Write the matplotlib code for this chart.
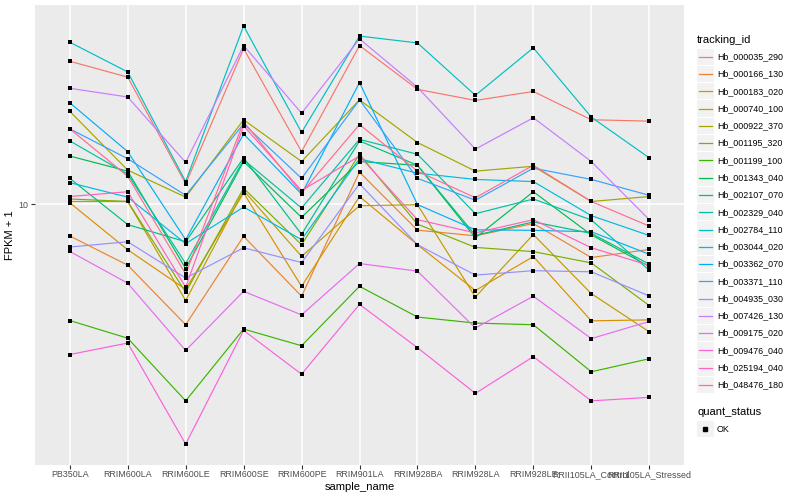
import matplotlib
matplotlib.use("Agg")
import matplotlib.pyplot as plt
from matplotlib.lines import Line2D
from matplotlib.patches import Rectangle
from matplotlib.ticker import NullLocator, NullFormatter
import numpy as np

plt.rcParams['font.family'] = ['Liberation Sans', 'DejaVu Sans']

# samples on the x axis
samples = ['PB350LA', 'RRIM600LA', 'RRIM600LE', 'RRIM600SE', 'RRIM600PE',
           'RRIM901LA', 'RRIM928BA', 'RRIM928LA', 'RRIM928LE',
           'RRII105LA_Control', 'RRII105LA_Stressed']

# FPKM + 1 for each gene, one value per sample
hb_000035_290 = [30.2, 26.7, 11.7, 33.3, 15.0, 34.1, 24.3, 22.3, 23.9, 19.2, 19.0]
hb_000166_130 = [7.81, 6.23, 3.93, 7.79, 4.90, 12.8, 8.17, 7.82, 8.60, 6.61, 7.04]
hb_000183_020 = [10.1, 7.02, 5.17, 10.9, 5.29, 10.6, 7.30, 5.12, 6.66, 4.05, 4.08]
hb_000740_100 = [10.2, 10.2, 4.74, 11.1, 6.67, 9.87, 9.95, 4.87, 7.90, 5.00, 3.72]
hb_000922_370 = [20.5, 13.0, 10.55, 19.2, 13.9, 22.4, 16.1, 12.9, 13.4, 10.2, 10.6]
hb_001195_320 = [10.4, 10.2, 5.05, 11.3, 7.30, 14.7, 8.56, 7.15, 6.92, 6.34, 4.56]
hb_001199_100 = [4.06, 3.54, 2.18, 3.80, 3.34, 5.29, 4.17, 3.98, 3.93, 2.73, 3.02]
hb_001343_040 = [14.5, 12.9, 6.07, 13.9, 9.02, 13.9, 13.5, 7.70, 11.0, 7.88, 6.17]
hb_002107_070 = [12.2, 8.53, 7.47, 14.3, 7.91, 16.3, 13.5, 7.85, 8.71, 7.97, 6.28]
hb_002329_040 = [16.3, 12.6, 6.31, 14.1, 9.70, 16.5, 14.7, 9.28, 10.4, 8.84, 5.99]
hb_002784_110 = [35.0, 27.8, 11.9, 39.7, 17.4, 36.7, 34.8, 23.2, 33.5, 19.6, 14.3]
hb_003044_020 = [11.8, 10.55, 7.36, 9.77, 7.59, 14.2, 12.7, 12.1, 11.9, 9.14, 7.84]
hb_003362_070 = [21.9, 15.0, 7.59, 17.2, 10.8, 25.6, 9.96, 8.19, 8.16, 8.07, 6.78]
hb_003371_110 = [17.9, 14.2, 10.7, 18.6, 12.2, 22.4, 12.2, 10.3, 13.2, 12.1, 10.7]
hb_004935_030 = [7.17, 7.47, 5.64, 7.13, 6.36, 11.7, 7.30, 5.77, 5.97, 5.92, 4.91]
hb_007426_130 = [24.5, 22.9, 13.8, 34.1, 20.2, 35.9, 24.7, 15.3, 19.5, 13.9, 8.86]
hb_009175_020 = [6.93, 5.42, 3.22, 5.09, 4.24, 6.31, 5.95, 3.83, 4.90, 3.53, 4.03]
hb_009476_040 = [3.12, 3.41, 1.56, 3.76, 2.68, 4.60, 3.29, 2.31, 3.07, 2.18, 2.24]
hb_025194_040 = [10.6, 11.0, 5.25, 18.3, 11.1, 14.5, 8.86, 8.00, 8.86, 7.13, 6.22]
hb_048476_180 = [17.9, 12.4, 5.82, 18.9, 10.9, 18.5, 12.9, 10.5, 13.5, 10.2, 8.43]

tracking_ids = ['Hb_000035_290', 'Hb_000166_130', 'Hb_000183_020', 'Hb_000740_100',
                'Hb_000922_370', 'Hb_001195_320', 'Hb_001199_100', 'Hb_001343_040',
                'Hb_002107_070', 'Hb_002329_040', 'Hb_002784_110', 'Hb_003044_020',
                'Hb_003362_070', 'Hb_003371_110', 'Hb_004935_030', 'Hb_007426_130',
                'Hb_009175_020', 'Hb_009476_040', 'Hb_025194_040', 'Hb_048476_180']
series = [hb_000035_290, hb_000166_130, hb_000183_020, hb_000740_100,
          hb_000922_370, hb_001195_320, hb_001199_100, hb_001343_040,
          hb_002107_070, hb_002329_040, hb_002784_110, hb_003044_020,
          hb_003362_070, hb_003371_110, hb_004935_030, hb_007426_130,
          hb_009175_020, hb_009476_040, hb_025194_040, hb_048476_180]

# ggplot default hue palette for 20 levels
colors = ['#F8766D', '#EA8331', '#D89000', '#C09B00', '#A3A500', '#7CAE00',
          '#39B600', '#00BB4E', '#00BF7D', '#00C1A3', '#00BFC4', '#00BAE0',
          '#00B0F6', '#35A2FF', '#9590FF', '#C77CFF', '#E76BF3', '#FA62DB',
          '#FF62BC', '#FF6C91']

W, H = 800, 500
fig = plt.figure(figsize=(8, 5), dpi=100)
ax = fig.add_axes([35 / W, 1 - 465 / H, (684 - 35) / W, (465 - 5) / H])
ax.set_facecolor('#EBEBEB')
for s in ax.spines.values():
    s.set_visible(False)

x = np.arange(1, len(samples) + 1)
for vals, c in zip(series, colors):
    ax.plot(x, vals, color=c, lw=0.85, zorder=2)
for vals in series:
    ax.scatter(x, vals, marker='s', s=7, color='black', linewidths=0, zorder=3)

ax.set_yscale('log')
ax.set_xlim(0.4, len(samples) + 0.6)
logv = np.log10(np.concatenate(series))
lo, hi = logv.min(), logv.max()
pad = 0.05 * (hi - lo)
ax.set_ylim(10 ** (lo - pad), 10 ** (hi + pad))
ax.set_yticks([10])
ax.set_yticklabels(['10'])
ax.yaxis.set_minor_locator(NullLocator())
ax.yaxis.set_minor_formatter(NullFormatter())
ax.set_xticks(x)
ax.set_xticklabels(samples)
ax.grid(True, color='white', lw=1.1)
ax.set_axisbelow(True)
ax.tick_params(length=3, width=0.8, color='#333333', labelcolor='#4D4D4D',
               labelsize=6.4, pad=1.5)
ax.tick_params(axis='x', pad=0.5)
ax.set_xlabel('sample_name', fontsize=8, labelpad=2)
ax.set_ylabel('FPKM + 1', fontsize=8, labelpad=3)


def fx(px):
    return px / W


def fy(py):
    return 1 - py / H


# legend: tracking_id
fig.text(fx(697), fy(40), 'tracking_id', fontsize=8, va='center', ha='left')
step = 17.28
for i, (name, c) in enumerate(zip(tracking_ids, colors)):
    yc = 56.7 + i * step
    fig.add_artist(Rectangle((fx(697), fy(yc + 8.2)), 16.5 / W, 16.4 / H,
                             transform=fig.transFigure, facecolor='#F2F2F2',
                             edgecolor='none'))
    fig.add_artist(Line2D([fx(699), fx(712)], [fy(yc), fy(yc)], color=c, lw=0.9,
                          transform=fig.transFigure))
    fig.text(fx(717), fy(yc), name, fontsize=6.4, va='center', ha='left')

# legend: quant_status
fig.text(fx(697), fy(412), 'quant_status', fontsize=8, va='center', ha='left')
yc = 429
fig.add_artist(Rectangle((fx(697), fy(yc + 8.2)), 16.5 / W, 16.4 / H,
                         transform=fig.transFigure, facecolor='#F2F2F2',
                         edgecolor='none'))
fig.add_artist(Line2D([fx(705)], [fy(yc)], marker='s', markersize=2.6, color='black',
                      lw=0, transform=fig.transFigure))
fig.text(fx(717), fy(yc), 'OK', fontsize=6.4, va='center', ha='left')

fig.savefig('out.png', dpi=100)
